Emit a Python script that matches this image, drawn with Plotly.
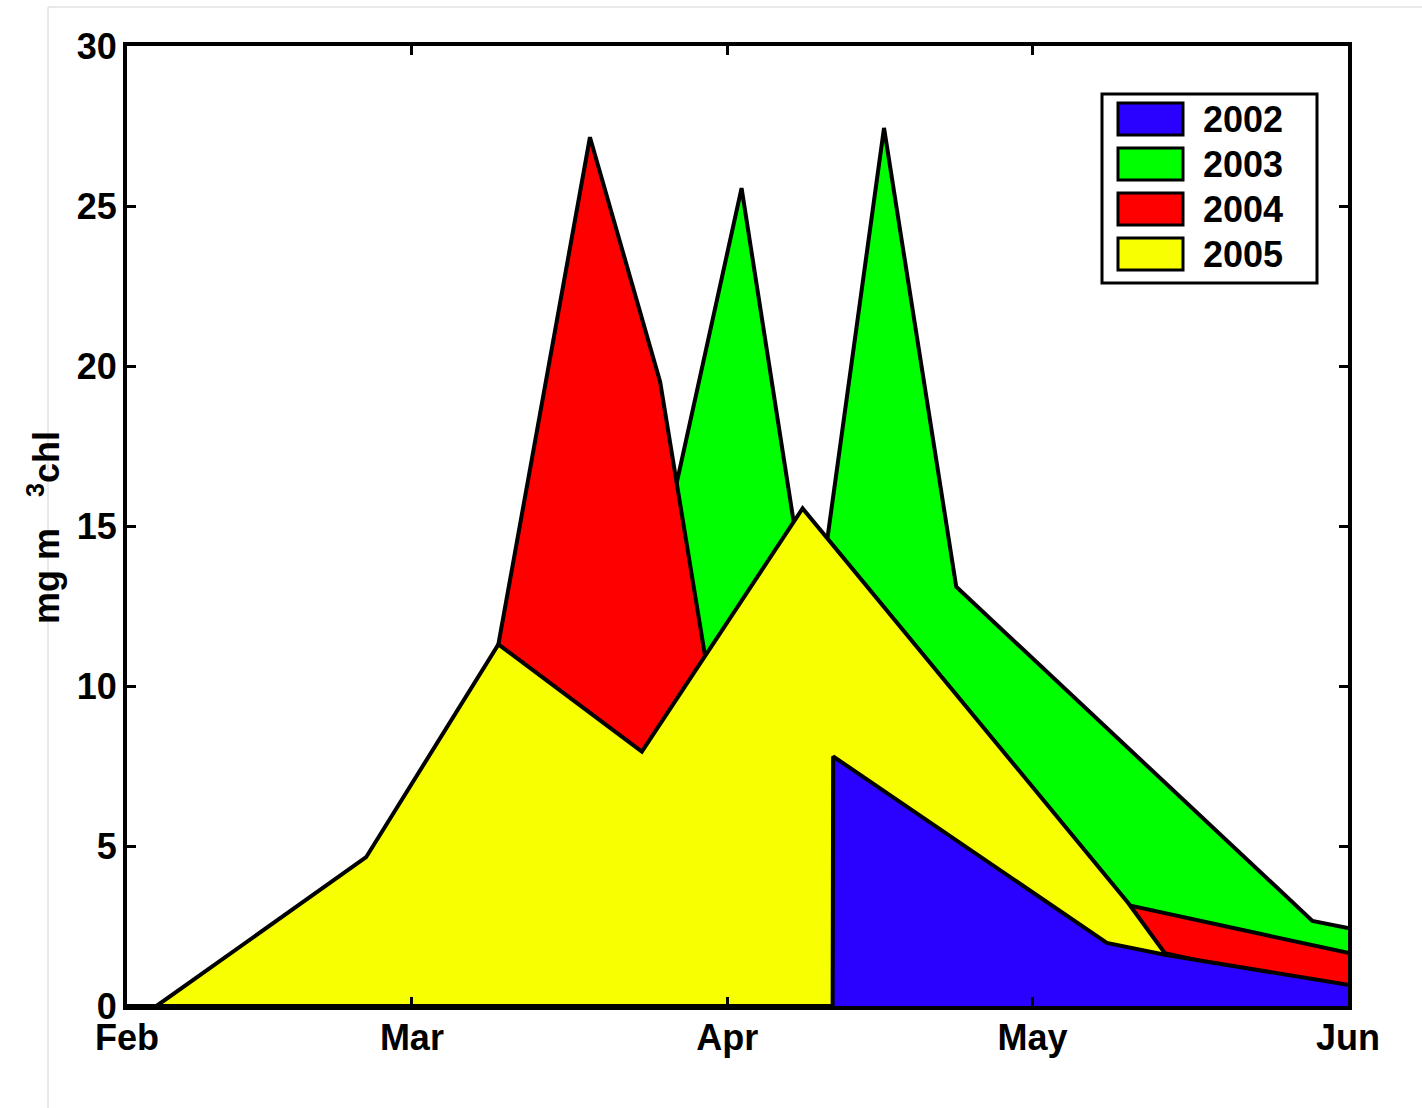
import plotly.graph_objects as go

# ---- data (x = day of year, 1 = Jan 1) ----
years = ["2002", "2003", "2004", "2005"]
colors = {"2002": "#2a00ff", "2003": "#00ff00", "2004": "#ff0000", "2005": "#f8ff00"}

doy_2002 = [32, 101.35, 101.4, 128.3, 134.0, 152]
chl_2002 = [0, 0, 7.8, 1.97, 1.6, 0.66]

doy_2003 = [32, 34.9, 55.5, 68.5, 82.6, 92.4, 99.4, 106.4, 113.5, 148.5, 152]
chl_2003 = [0, 0, 2.5, 6.0, 11.4, 25.56, 11.3, 27.44, 13.1, 2.66, 2.44]

doy_2004 = [32, 34.9, 55.5, 68.5, 77.5, 84.4, 90.0, 130.4, 152]
chl_2004 = [0, 0, 3.0, 11.3, 27.15, 19.5, 8.63, 3.15, 1.66]

doy_2005 = [32, 34.9, 55.5, 68.5, 82.6, 98.4, 130.4, 134.0, 152]
chl_2005 = [0, 0, 4.65, 11.3, 7.95, 15.55, 3.22, 1.65, 0.4]

month_ticks = [32, 60, 91, 121, 152]
month_labels = ["Feb", "Mar", "Apr", "May", "Jun"]
y_ticks = [0, 5, 10, 15, 20, 25, 30]

series = {
    "2002": (doy_2002, chl_2002),
    "2003": (doy_2003, chl_2003),
    "2004": (doy_2004, chl_2004),
    "2005": (doy_2005, chl_2005),
}
draw_order = ["2003", "2004", "2005", "2002"]

W, H = 1422, 1108
ML, MR, MT, MB = 127, 74, 46, 102
PW, PH = W - ML - MR, H - MT - MB

def px(x):
    return (x - ML) / PW

def py(y):
    return (H - MB - y) / PH

FONT = "Liberation Sans, Arial, Helvetica, sans-serif"

fig = go.Figure()
for yr in draw_order:
    xs, ys = series[yr]
    fig.add_trace(go.Scatter(
        x=xs, y=ys, mode="lines", fill="tozeroy",
        fillcolor=colors[yr], line=dict(color="black", width=4),
        name=yr, showlegend=False, hoverinfo="x+y+name",
    ))

shapes = []
annotations = []
# custom legend (MATLAB style)
shapes.append(dict(type="rect", xref="paper", yref="paper",
                   x0=px(1102), x1=px(1317), y0=py(283), y1=py(94),
                   line=dict(color="black", width=3), fillcolor="white", layer="above"))
for i, yr in enumerate(years):
    cy = 119 + 45 * i
    shapes.append(dict(type="rect", xref="paper", yref="paper",
                       x0=px(1118), x1=px(1183), y0=py(cy + 16), y1=py(cy - 16),
                       line=dict(color="black", width=3), fillcolor=colors[yr], layer="above"))
    annotations.append(dict(xref="paper", yref="paper", x=px(1201), y=py(cy),
                            xanchor="left", yanchor="middle", text=yr, showarrow=False,
                            font=dict(family=FONT, size=36, color="black", weight="bold")))

# thin grey page frame
shapes.append(dict(type="line", xref="paper", yref="paper",
                   x0=px(48), x1=px(48), y0=py(1108), y1=py(7),
                   line=dict(color="#d4d4d4", width=1)))
shapes.append(dict(type="line", xref="paper", yref="paper",
                   x0=px(48), x1=px(1422), y0=py(7), y1=py(7),
                   line=dict(color="#d4d4d4", width=1)))

# y-axis title
annotations.append(dict(xref="paper", yref="paper", x=px(44), y=py(528),
                        xanchor="center", yanchor="middle", textangle=-90,
                        text="mg m\u00a0<sup>\u00a0\u00a0\u00a03</sup>chl", showarrow=False,
                        font=dict(family=FONT, size=36, color="black", weight="bold")))

axis_common = dict(showline=True, linecolor="black", linewidth=4, mirror="ticks",
                   ticks="inside", ticklen=9, tickwidth=3, tickcolor="black",
                   showgrid=False, zeroline=False,
                   tickfont=dict(family=FONT, size=36, color="black", weight="bold"))

fig.update_layout(
    width=W, height=H,
    margin=dict(l=ML, r=MR, t=MT, b=MB, pad=0),
    paper_bgcolor="white", plot_bgcolor="white",
    xaxis=dict(range=[32, 152], tickvals=month_ticks, ticktext=month_labels,
               ticklabelstandoff=-3, **axis_common),
    yaxis=dict(range=[0, 30], tickvals=y_ticks, ticklabelstandoff=-1, **axis_common),
    shapes=shapes, annotations=annotations,
)

fig.write_html("out.html")
